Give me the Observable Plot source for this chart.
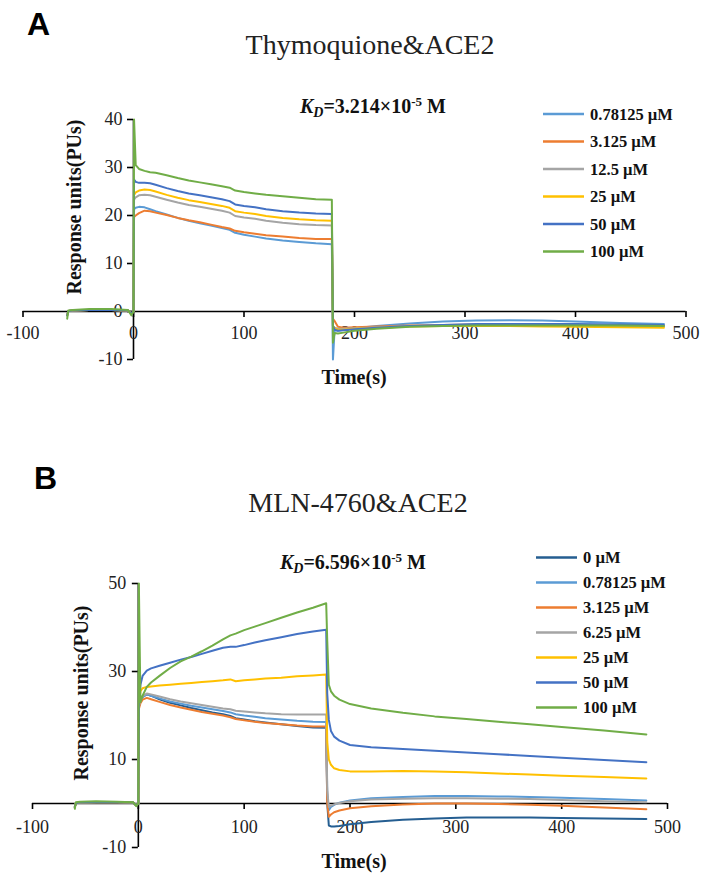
<!DOCTYPE html>
<html><head><meta charset="utf-8">
<script src="https://cdn.jsdelivr.net/npm/d3@7"></script>
<script src="https://cdn.jsdelivr.net/npm/@observablehq/plot@0.6"></script>
<style>
body{margin:0;background:#fff;}
#wrap{position:relative;width:708px;height:878px;overflow:hidden;}
.panel{position:absolute;left:0;width:708px;height:439px;}
#ov{position:absolute;left:0;top:0;pointer-events:none;}
</style></head><body>
<div id="wrap"><div id="pa" class="panel" style="top:0"></div><div id="pb" class="panel" style="top:439px"></div><svg id="ov" width="708" height="878"></svg></div>
<script>
// ---------- Panel A data (Thymoquione & ACE2) ----------
const labelsA = ["0.78125 µM","3.125 µM","12.5 µM","25 µM","50 µM","100 µM"];
const colorsA = ["#5B9BD5","#ED7D31","#A5A5A5","#FFC000","#4472C4","#70AD47"];
const timeA = [-60,-59,-55,-40,-20,-5,-2,0,0.5,2,5,10,15,20,30,40,50,60,70,80,87,92,100,110,120,135,150,165,179.5,180.5,182,185,190,200,220,250,280,310,340,370,400,440,480];
const a078 = [-0.8,0.1,0.2,0.3,0.3,0.2,-0.4,0, 21.3,21.6,21.8,21.7,21.3,20.9,20.2,19.5,18.9,18.4,17.9,17.4,17.0,16.4,16.0,15.6,15.2,14.8,14.5,14.2,14.0, -10,-3.8,-4.0,-3.8,-3.5,-3.0,-2.5,-2.1,-1.9,-1.8,-1.9,-2.1,-2.4,-2.6];
const a3125 = [-0.8,0.1,0.2,0.3,0.3,0.2,-0.4,0, 19.7,20.0,20.5,21.0,20.9,20.6,20.1,19.5,19.0,18.6,18.1,17.6,17.3,16.8,16.5,16.2,15.9,15.6,15.3,15.1,15.1, -1.5,-2.0,-3.2,-3.4,-3.3,-3.1,-2.9,-2.8,-2.7,-2.7,-2.7,-2.8,-2.9,-3.0];
const a125 = [-0.8,0.1,0.2,0.3,0.3,0.2,-0.4,0, 23.3,23.8,24.2,24.3,24.2,23.9,23.3,22.7,22.2,21.8,21.4,21.0,20.6,19.9,19.6,19.3,18.9,18.5,18.2,18.0,17.9, -3.0,-3.4,-3.6,-3.6,-3.5,-3.3,-3.0,-2.9,-2.8,-2.8,-2.8,-2.9,-3.0,-3.1];
const a25 = [-0.8,0.1,0.2,0.3,0.3,0.2,-0.4,0, 24.3,24.8,25.2,25.4,25.3,25.0,24.3,23.7,23.2,22.8,22.4,22.0,21.6,20.9,20.6,20.3,19.9,19.5,19.2,19.0,18.9, -3.0,-3.5,-3.8,-3.8,-3.6,-3.4,-3.1,-3.0,-3.0,-3.0,-3.1,-3.2,-3.3,-3.4];
const a50 = [-0.8,0.1,0.2,0.3,0.3,0.2,-0.4,0, 27.5,27.0,26.8,26.8,26.7,26.4,25.7,25.1,24.6,24.2,23.8,23.4,23.0,22.3,22.0,21.7,21.3,20.9,20.6,20.4,20.3, -3.0,-3.8,-4.0,-3.9,-3.7,-3.4,-3.0,-2.8,-2.6,-2.6,-2.6,-2.6,-2.7,-2.8];
const a100 = [-1.5,0.2,0.3,0.5,0.5,0.3,-0.8,0, 40,30.5,29.7,29.3,29.0,28.9,28.4,27.8,27.3,26.9,26.5,26.1,25.8,25.2,24.9,24.6,24.3,24.0,23.7,23.4,23.3, -6.5,-4.5,-4.6,-4.4,-4.0,-3.6,-3.2,-3.0,-2.9,-2.9,-2.9,-2.9,-2.9,-3.0];
const xTicksA = [-100,0,100,200,300,400,500];
const yTicksA = [-10,0,10,20,30,40];

// ---------- Panel B data (MLN-4760 & ACE2) ----------
const labelsB = ["0 µM","0.78125 µM","3.125 µM","6.25 µM","25 µM","50 µM","100 µM"];
const colorsB = ["#255E91","#5B9BD5","#ED7D31","#A5A5A5","#FFC000","#4472C4","#70AD47"];
const timeB = [-60,-59,-55,-40,-20,-5,-2,0,0.5,2,4,8,12,20,30,40,50,60,70,80,87,92,100,110,120,135,150,165,177.5,178.5,180,182,185,190,200,220,250,280,310,340,370,400,440,480];
const b0 = [-0.8,0.1,0.2,0.3,0.3,0.2,-0.4,0, 22.0,23.3,24.2,24.8,24.5,23.7,22.9,22.3,21.7,21.2,20.7,20.3,19.9,19.4,19.1,18.7,18.4,18.0,17.6,17.3,17.2, 0,-5.0,-5.2,-5.2,-5.1,-4.7,-4.2,-3.7,-3.4,-3.2,-3.2,-3.2,-3.3,-3.4,-3.5];
const b078 = [-0.8,0.1,0.2,0.3,0.3,0.2,-0.4,0, 22.0,23.3,24.2,24.8,24.5,23.9,23.2,22.7,22.2,21.8,21.4,21.0,20.7,20.3,20.0,19.7,19.4,19.1,18.8,18.6,18.5, 2,-1.5,-0.8,-0.3,0.2,0.7,1.2,1.5,1.7,1.7,1.6,1.5,1.3,1.0,0.7];
const b3125 = [-0.8,0.1,0.2,0.3,0.3,0.2,-0.4,0, 21.5,22.8,23.6,24.0,23.7,23.1,22.4,21.8,21.3,20.8,20.4,20.0,19.6,19.2,18.9,18.6,18.3,18.0,17.7,17.5,17.5, 0,-3.0,-2.5,-2.0,-1.6,-1.1,-0.6,-0.2,0.0,0.0,-0.1,-0.3,-0.5,-0.9,-1.3];
const b625 = [-0.8,0.1,0.2,0.3,0.3,0.2,-0.4,0, 22.0,23.5,24.4,25.0,24.8,24.3,23.7,23.2,22.8,22.4,22.0,21.6,21.4,21.1,20.9,20.7,20.5,20.3,20.2,20.2,20.2, 3,-0.8,-0.5,-0.2,0.1,0.5,0.9,1.1,1.2,1.2,1.1,1.0,0.8,0.5,0.3];
const b25 = [-0.8,0.1,0.2,0.3,0.3,0.2,-0.4,0, 23.0,25.5,26.2,26.5,26.6,26.8,27.0,27.2,27.4,27.6,27.8,28.0,28.2,27.8,28.0,28.2,28.4,28.6,28.9,29.1,29.3, 14,10,8.8,8.0,7.6,7.3,7.3,7.4,7.3,7.1,6.8,6.6,6.3,6.0,5.7];
const b50 = [-0.8,0.1,0.2,0.3,0.3,0.2,-0.4,0, 23.0,27.0,29.0,30.2,30.7,31.3,32.0,32.7,33.3,34.0,34.7,35.4,35.6,35.6,36.0,36.6,37.1,37.8,38.5,39.1,39.5, 25,19,16.5,15.2,14.3,13.3,12.8,12.4,12.0,11.6,11.2,10.8,10.4,9.9,9.4];
const b100 = [-1.2,0.3,0.4,0.5,0.4,0.3,-0.6,0, 50,23.0,24.5,26.5,27.5,29.0,30.8,32.3,33.4,34.6,35.9,37.3,38.2,38.6,39.4,40.2,41.0,42.2,43.4,44.5,45.5, 37,27,25.5,24.5,23.6,22.6,21.6,20.6,19.8,19.2,18.6,18.0,17.4,16.6,15.7];
const xTicksB = [-100,0,100,200,300,400,500];
const yTicksB = [-10,10,30,50];

const SERIF = "Liberation Serif, Times New Roman, serif";

function panel(el, times, series, labels, colors, xTicks, yTicks, o) {
  const data = [];
  series.forEach((vals, k) => vals.forEach((v, i) => data.push({t: times[i], v, s: labels[k]})));
  const chart = Plot.plot({
    width: 708, height: 439,
    marginLeft: o.ml, marginRight: o.mr, marginTop: o.mt, marginBottom: o.mb,
    x: {domain: [-100, 500], axis: null},
    y: {domain: o.ydom, axis: null},
    color: {domain: labels, range: colors},
    style: {background: "transparent", overflow: "visible"},
    marks: [
      Plot.ruleY([0], {y: d => d, stroke: "#000", strokeWidth: 1.6}),
      Plot.ruleX(xTicks, {x: d => d, y1: () => 0, y2: () => 0, insetBottom: -6, stroke: "#000", strokeWidth: 1.6}),
      Plot.ruleX([0], {x: d => d, y1: () => o.ydom[0], y2: () => o.ydom[1], stroke: "#000", strokeWidth: 1.6}),
      Plot.ruleY(yTicks, {y: d => d, x1: () => 0, x2: () => 0, insetLeft: -6, stroke: "#000", strokeWidth: 1.6}),
      Plot.text(xTicks, {x: d => d, y: () => 0, dy: o.xdy, text: d => String(d), fontSize: 18, fontFamily: SERIF, fill: "#222"}),
      Plot.text(yTicks, {x: () => 0, y: d => d, dx: o.ydx, textAnchor: "end", text: d => String(d), fontSize: 18, fontFamily: SERIF, fill: "#222"}),
      Plot.line(data, {x: "t", y: "v", z: "s", stroke: "s", strokeWidth: 2, strokeLinejoin: "round"})
    ]
  });
  document.getElementById(el).appendChild(chart);
}

panel("pa", timeA, [a078, a3125, a125, a25, a50, a100], labelsA, colorsA, xTicksA, yTicksA,
  {ml: 22.5, mr: 22.5, mt: 119, mb: 80, ydom: [-10, 40], xdy: 22, ydx: -11});
panel("pb", timeB, [b0, b078, b3125, b625, b25, b50, b100], labelsB, colorsB, xTicksB, yTicksB,
  {ml: 32, mr: 41, mt: 144, mb: 31, ydom: [-10, 50], xdy: 24, ydx: -12});

// ---------- annotations ----------
const ov = d3.select("#ov");
function t(x, y, s, a) {
  const e = ov.append("text").attr("x", x).attr("y", y).text(s)
    .attr("font-family", a.ff || SERIF).attr("font-size", a.fs).attr("fill", a.fill || "#111");
  if (a.fw) e.attr("font-weight", a.fw);
  if (a.anchor) e.attr("text-anchor", a.anchor);
  if (a.rot) e.attr("transform", `rotate(-90 ${x} ${y})`);
  return e;
}
// panel letters
t(27, 35, "A", {ff: "Liberation Sans, Arial, sans-serif", fs: 32, fw: "bold", fill: "#000"});
t(34, 489, "B", {ff: "Liberation Sans, Arial, sans-serif", fs: 32, fw: "bold", fill: "#000"});
// titles
t(370, 54, "Thymoquione&ACE2", {fs: 28, anchor: "middle", fill: "#222"});
t(358, 512, "MLN-4760&ACE2", {fs: 28, anchor: "middle", fill: "#222"});
// KD
function kd(x, y, val) {
  const e = ov.append("text").attr("x", x).attr("y", y).attr("font-family", SERIF)
    .attr("font-size", 20).attr("font-weight", "bold").attr("fill", "#111");
  e.append("tspan").attr("font-style", "italic").text("K");
  e.append("tspan").attr("font-style", "italic").attr("font-size", 14).attr("dy", 4).text("D");
  e.append("tspan").attr("dy", -4).text("=" + val + "×10");
  e.append("tspan").attr("font-size", 13).attr("dy", -7).text("-5");
  e.append("tspan").attr("dy", 7).text(" M");
}
kd(300, 113, "3.214");
kd(280, 569, "6.596");
// axis titles
t(81, 207, "Response units(PUs)", {fs: 20, fw: "bold", anchor: "middle", rot: true});
t(88, 693, "Response units(PUs)", {fs: 20, fw: "bold", anchor: "middle", rot: true});
t(354, 384, "Time(s)", {fs: 20, fw: "bold", anchor: "middle"});
t(354, 868, "Time(s)", {fs: 20, fw: "bold", anchor: "middle"});
// legends
function legend(labels, colors, x1, x2, tx, y0, step) {
  labels.forEach((l, i) => {
    const y = y0 + i * step;
    ov.append("line").attr("x1", x1).attr("x2", x2).attr("y1", y).attr("y2", y)
      .attr("stroke", colors[i]).attr("stroke-width", 2.5);
    t(tx, y + 5.5, l, {fs: 16.5, fw: "bold"});
  });
}
legend(labelsA, colorsA, 543, 584, 590, 114, 27.5);
legend(labelsB, colorsB, 536, 577, 583, 557.5, 25);
</script></body></html>
